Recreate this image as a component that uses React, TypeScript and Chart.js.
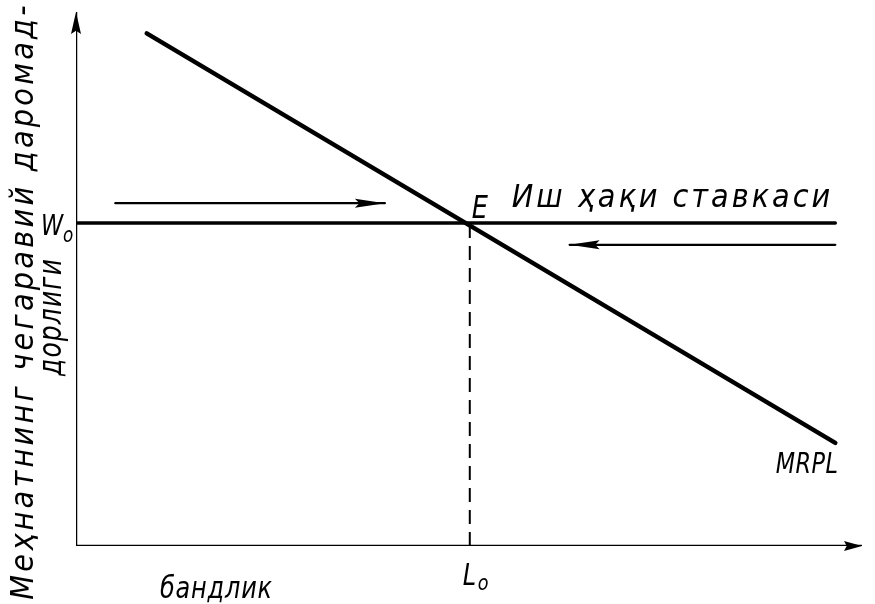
import React, { useEffect, useRef } from "react";
import { Chart, registerables } from "chart.js";

Chart.register(...registerables);

// ---- data (in abstract units 0..100) ----
const X_RANGE = [0, 100];
const Y_RANGE = [0, 100];
const L0 = 50.1;
const W0 = 60.5;
const mrplX = [9.0, 96.6];
const mrplY = [96.0, 19.3];
const wageX = [0, 96.6];
const wageY = [W0, W0];
const dashX = [L0, L0];
const dashY = [0, W0];
const arrowRightX = [5.0, 39.3];
const arrowRightY = [64.2, 64.2];
const arrowLeftX = [96.6, 62.8];
const arrowLeftY = [56.4, 56.4];
const axisXx = [0, 100];
const axisXy = [0, 0];
const axisYx = [0, 0];
const axisYy = [0, 100];

const yTitle1 = "Меҳнатнинг чегаравий даромад-";
const yTitle2 = "дорлиги";
const xTitle = "бандлик";
const wageLabel = "Иш ҳақи ставкаси";
const curveLabel = "MRPL";
const eqLabel = "E";

const FONT = "'DejaVu Sans'";
const INK = "#000";

function pts(xs: number[], ys: number[]) {
  return xs.map((x, i) => ({ x, y: ys[i] }));
}

function drawText(
  ctx: CanvasRenderingContext2D,
  text: string,
  x: number,
  y: number,
  size: number,
  opts: { align?: CanvasTextAlign; sx?: number; rot?: number; spacing?: number } = {}
) {
  ctx.save();
  ctx.translate(x, y);
  if (opts.rot) ctx.rotate(opts.rot);
  ctx.scale(opts.sx ?? 0.8, 1);
  ctx.font = `italic ${size}px ${FONT}`;
  (ctx as any).letterSpacing = `${opts.spacing ?? 0}px`;
  ctx.textAlign = opts.align ?? "left";
  ctx.textBaseline = "alphabetic";
  ctx.fillStyle = INK;
  ctx.fillText(text, 0, 0);
  ctx.restore();
}

const arrowPlugin = {
  id: "arrowheads",
  afterDatasetsDraw(chart: any) {
    const ctx = chart.ctx as CanvasRenderingContext2D;
    chart.data.datasets.forEach((ds: any, i: number) => {
      if (!ds.arrow) return;
      const meta = chart.getDatasetMeta(i);
      const n = meta.data.length;
      const p1 = meta.data[n - 2];
      const p2 = meta.data[n - 1];
      const ang = Math.atan2(p2.y - p1.y, p2.x - p1.x);
      const [len, half] = ds.arrow;
      ctx.save();
      ctx.translate(p2.x, p2.y);
      ctx.rotate(ang);
      ctx.beginPath();
      ctx.moveTo(0, 0);
      ctx.lineTo(-len, -half);
      ctx.lineTo(-len * 0.85, 0);
      ctx.lineTo(-len, half);
      ctx.closePath();
      ctx.fillStyle = INK;
      ctx.fill();
      ctx.restore();
    });
  },
};

const labelPlugin = {
  id: "labels",
  afterDraw(chart: any) {
    const ctx = chart.ctx as CanvasRenderingContext2D;
    const xs = chart.scales.x;
    const ys = chart.scales.y;
    const x0 = xs.getPixelForValue(0);
    const y0 = ys.getPixelForValue(0);
    const lx = xs.getPixelForValue(L0);
    const wy = ys.getPixelForValue(W0);

    // W0
    drawText(ctx, "W", x0 - 35, wy + 12, 28);
    drawText(ctx, "o", x0 - 13, wy + 19, 21);
    // L0
    drawText(ctx, "L", lx - 7, y0 + 39, 30);
    drawText(ctx, "o", lx + 8, y0 + 44, 22);
    // E
    drawText(ctx, eqLabel, lx + 2, wy - 5, 32);
    // wage label
    drawText(ctx, wageLabel, lx + 42, wy - 16, 32, { sx: 0.9, spacing: 3.3 });
    // MRPL
    const mx = xs.getPixelForValue(mrplX[1]);
    const my = ys.getPixelForValue(mrplY[1]);
    drawText(ctx, curveLabel, mx + 3, my + 30, 28, { align: "right", spacing: 0.5 });
    // x title
    drawText(ctx, xTitle, x0 + 84, y0 + 52, 30, { spacing: 1 });
    // y title
    const top = ys.getPixelForValue(100);
    const midY = (y0 + top) / 2;
    drawText(ctx, yTitle1, x0 - 43, midY + 22, 32, { rot: -Math.PI / 2, align: "center", sx: 0.9, spacing: 3.6 });
    drawText(ctx, yTitle2, x0 - 15, midY + 38, 32, { rot: -Math.PI / 2, align: "center", sx: 0.78, spacing: 1.5 });
  },
};

export default function App() {
  const ref = useRef<HTMLCanvasElement | null>(null);

  useEffect(() => {
    document.body.style.margin = "0";
    document.body.style.background = "#fff";
    const line = (data: any, width: number, extra: any = {}) => ({
      data,
      borderColor: INK,
      borderWidth: width,
      pointRadius: 0,
      fill: false,
      tension: 0,
      borderCapStyle: "round",
      ...extra,
    });
    const chart = new Chart(ref.current as HTMLCanvasElement, {
      type: "line",
      data: {
        datasets: [
          line(pts(axisXx, axisXy), 2.5, { arrow: [18, 5] }),
          line(pts(axisYx, axisYy), 2.5, { arrow: [22, 5] }),
          line(pts(dashX, dashY), 2, { borderDash: [14, 8], borderCapStyle: "butt" }),
          line(pts(wageX, wageY), 3.5),
          line(pts(mrplX, mrplY), 4.5),
          line(pts(arrowRightX, arrowRightY), 2.2, { arrow: [30, 4.5] }),
          line(pts(arrowLeftX, arrowLeftY), 2.2, { arrow: [30, 4.5] }),
        ] as any,
      },
      options: {
        animation: false,
        responsive: false,
        maintainAspectRatio: false,
        layout: { padding: { left: 76, right: 13, top: 12, bottom: 58 } },
        plugins: { legend: { display: false }, tooltip: { enabled: false } },
        scales: {
          x: { type: "linear", min: X_RANGE[0], max: X_RANGE[1], display: false },
          y: { type: "linear", min: Y_RANGE[0], max: Y_RANGE[1], display: false },
        },
      },
      plugins: [arrowPlugin, labelPlugin],
    });
    return () => chart.destroy();
  }, []);

  return (
    <div style={{ position: "fixed", left: 0, top: 0, width: 875, height: 604, background: "#fff" }}>
      <canvas ref={ref} width={875} height={604} style={{ width: 875, height: 604 }} />
    </div>
  );
}
